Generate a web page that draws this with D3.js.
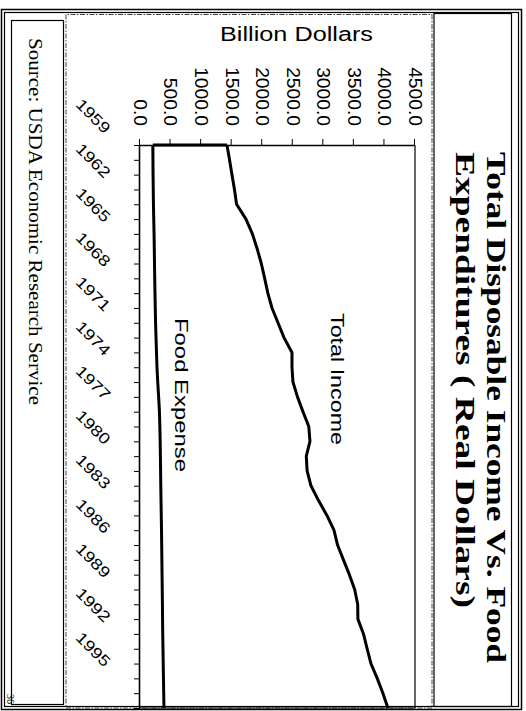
<!DOCTYPE html>
<html><head><meta charset="utf-8">
<script src="https://cdn.jsdelivr.net/npm/d3@7"></script>
<style>html,body{margin:0;padding:0;background:#fff;} svg{display:block;}</style>
</head><body><svg id="c" width="526" height="711"></svg>
<script>
const years = [1959,1960,1961,1962,1963,1964,1965,1966,1967,1968,1969,1970,1971,1972,1973,1974,1975,1976,1977,1978,1979,1980,1981,1982,1983,1984,1985,1986,1987,1988,1989,1990,1991,1992,1993,1994,1995,1996,1997];
const income = [1423,1465,1505,1546,1580,1734,1839,1917,1985,2040,2092,2160,2258,2356,2487,2487,2503,2577,2667,2762,2781,2721,2735,2798,2922,3059,3174,3233,3329,3426,3513,3562,3566,3657,3717,3779,3882,3975,4057];
const food = [210,212,214,217,220,225,230,234,237,241,245,250,255,262,270,278,290,305,318,325,330,334,337,340,344,348,352,355,358,361,364,367,369,372,376,380,384,388,392];
const valueTicks = [0,500,1000,1500,2000,2500,3000,3500,4000,4500];
const labelYears = [1959,1962,1965,1968,1971,1974,1977,1980,1983,1986,1989,1992,1995];
const titleLines = ["Total Disposable Income Vs. Food", "Expenditures ( Real Dollars)"];
const axisTitle = "Billion Dollars";
const sourceText = "Source: USDA Economic Research Service";
const seriesNames = ["Total Income", "Food Expense"];
const pageMark = "36";

const W = 526;
const svg = d3.select("#c");
svg.append("rect").attr("width", 526).attr("height", 711).attr("fill", "#fff");
// whole chart is drawn upright, then turned 90deg clockwise
const g = svg.append("g").attr("transform", "translate(526,0) rotate(90)");

function prect(x1, y1, x2, y2) { return {x: y1, y: W - x2, width: y2 - y1, height: x2 - x1}; }
function box(r, stroke, sw, dash) {
  const e = g.append("rect").attr("x", r.x).attr("y", r.y).attr("width", r.width).attr("height", r.height)
    .attr("fill", "none").attr("stroke", stroke).attr("stroke-width", sw);
  if (dash) e.attr("stroke-dasharray", dash);
  return e;
}
function stretchTo(sel, k) {
  sel.each(function() {
    const L = this.getComputedTextLength();
    d3.select(this).attr("textLength", L * k).attr("lengthAdjust", "spacingAndGlyphs");
  });
}

// frames
box(prect(1.5, 9.5, 521.5, 709.5), "#000", 1.5);
box(prect(4.5, 12.5, 518.5, 706.5), "#000", 1.2);
box(prect(11.5, 20.5, 63.5, 704.5), "#000", 1.2);
box(prect(66, 14.5, 432, 708), "#444", 1, "5,1.5,1.5,1.5");
box(prect(434, 13.5, 511.5, 706.5), "#000", 1.2);

const x = d3.scaleLinear().domain([1959, 1997]).range([145, 708]);
const y = d3.scaleLinear().domain([0, 4500]).range([386, 111]);

const sans = "'Liberation Sans', Arial, sans-serif";
const serif = "'Liberation Serif', 'Times New Roman', serif";

// plot border (top & right in upright frame)
g.append("line").attr("x1", x(1959)).attr("x2", x(1997)).attr("y1", y(4500)).attr("y2", y(4500))
  .attr("stroke", "#000").attr("stroke-width", 1.2);
g.append("line").attr("x1", x(1997)).attr("x2", x(1997)).attr("y1", y(4500)).attr("y2", y(0))
  .attr("stroke", "#000").attr("stroke-width", 1);

// year axis
const xa = g.append("g").attr("transform", `translate(0,${y(0)})`)
  .call(d3.axisBottom(x).tickValues(years).tickSize(6).tickSizeOuter(0)
    .tickFormat(d => labelYears.includes(d) ? String(d) : ""));
xa.select(".domain").attr("stroke", "#000").attr("stroke-width", 1.6);
xa.selectAll(".tick line").attr("stroke", "#000").attr("stroke-width", 1);
xa.selectAll(".tick text").attr("x", 0).attr("y", 0).attr("dy", 0)
  .attr("text-anchor", "end").attr("transform", "translate(-11,36) rotate(-45)")
  .attr("font-family", sans).attr("font-size", 15.5).attr("fill", "#000");
stretchTo(xa.selectAll(".tick text").filter(d => labelYears.includes(d)), 1.2);

// value axis
const ya = g.append("g").attr("transform", `translate(${x(1959)},0)`)
  .call(d3.axisLeft(y).tickValues(valueTicks).tickSize(6).tickSizeOuter(0).tickPadding(13)
    .tickFormat(d3.format(".1f")));
ya.select(".domain").attr("stroke", "#000").attr("stroke-width", 1.6);
ya.selectAll(".tick line").attr("stroke", "#000").attr("stroke-width", 1);
ya.selectAll(".tick text").attr("font-family", sans).attr("font-size", 17.5).attr("fill", "#000");
stretchTo(ya.selectAll(".tick text"), 1.1);

// series
const line = d3.line().x((d, i) => x(years[i])).y(d => y(d));
[income, food].forEach(s => {
  g.append("path").datum(s).attr("d", line).attr("fill", "none")
    .attr("stroke", "#000").attr("stroke-width", 3).attr("stroke-linejoin", "round");
});
g.append("line").attr("x1", x(years[0])).attr("x2", x(years[0]))
  .attr("y1", y(food[0])).attr("y2", y(income[0])).attr("stroke", "#000").attr("stroke-width", 3);

// series labels
g.append("text").attr("x", 313).attr("y", 195).text(seriesNames[0])
  .attr("font-family", sans).attr("font-size", 18).attr("textLength", 132).attr("lengthAdjust", "spacingAndGlyphs");
g.append("text").attr("x", 318).attr("y", 351).text(seriesNames[1])
  .attr("font-family", sans).attr("font-size", 18).attr("textLength", 154).attr("lengthAdjust", "spacingAndGlyphs");

// axis title
g.append("text").attr("transform", "translate(41,229.5) rotate(-90)").attr("text-anchor", "middle")
  .text(axisTitle).attr("font-family", sans).attr("font-size", 19.5)
  .attr("textLength", 153).attr("lengthAdjust", "spacingAndGlyphs");

// title
const tl = [[152, 39, 511], [152, 70, 456]];
titleLines.forEach((t, i) => {
  g.append("text").attr("x", tl[i][0]).attr("y", tl[i][1]).text(t)
    .attr("font-family", serif).attr("font-weight", "bold").attr("font-size", 27)
    .attr("textLength", tl[i][2]).attr("lengthAdjust", "spacingAndGlyphs");
});

// source
g.append("text").attr("x", 38).attr("y", 497).text(sourceText)
  .attr("font-family", serif).attr("font-size", 19)
  .attr("textLength", 367).attr("lengthAdjust", "spacingAndGlyphs");

g.append("text").attr("x", 694).attr("y", 519).text(pageMark)
  .attr("font-family", serif).attr("font-size", 10);
</script></body></html>
